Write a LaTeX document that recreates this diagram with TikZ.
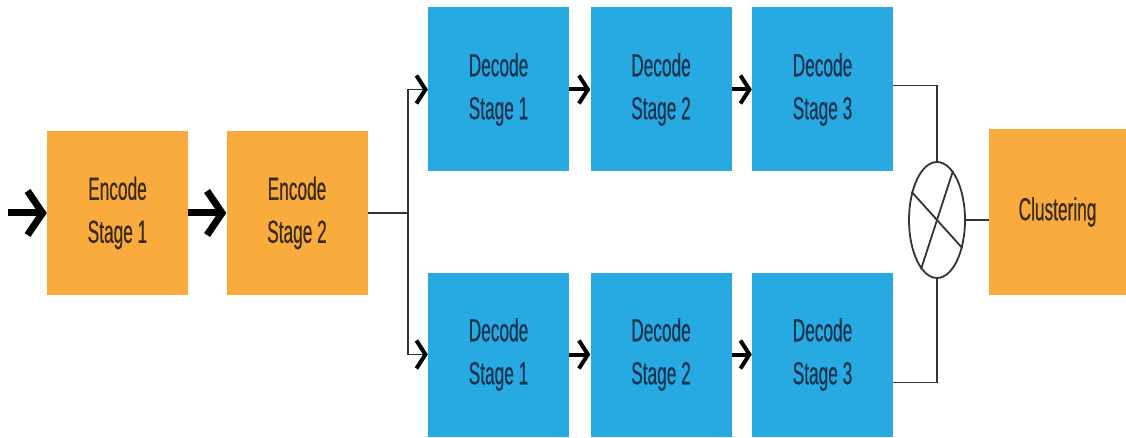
\documentclass[tikz,border=0pt]{standalone}
\usepackage{fontspec}
\usetikzlibrary{arrows.meta,shapes.geometric}
\newfontfamily\boxfont[FakeStretch=0.54,FakeBold=0.4]{Liberation Sans}
\definecolor{encorange}{HTML}{F9AB3D}
\definecolor{decblue}{HTML}{27A9E1}
\definecolor{txtbrown}{HTML}{3A2A12}
\definecolor{txtnavy}{HTML}{16344F}
\definecolor{wire}{HTML}{333333}
\tikzset{
  box/.style={minimum width=141pt, minimum height=164pt, inner sep=0pt, align=center,
    font=\boxfont\fontsize{32}{43}\selectfont},
  encbox/.style={box, fill=encorange, text=txtbrown},
  decbox/.style={box, fill=decblue, text=txtnavy},
  bigarrow/.style={line width=7pt, -{Straight Barb[length=15pt,width=44pt]}},
  smallarrow/.style={line width=4pt, -{Straight Barb[length=9pt,width=28pt]}},
  splitarrow/.style={line width=1.8pt, draw=wire, -{Straight Barb[length=9pt,width=28pt,line width=4pt,color=black]}},
  wireline/.style={line width=1.8pt, draw=wire},
}
\begin{document}
\begin{tikzpicture}[x=1pt,y=-1pt]
\useasboundingbox[fill=white] (0,0) rectangle (1126,438);
\node[encbox] (E1) at (117.5,213) {Encode\\Stage 1};
\node[encbox] (E2) at (297,213) {Encode\\Stage 2};
\node[decbox] (D1t) at (498.5,89.5) {Decode\\Stage 1};
\node[decbox] (D2t) at (661,89.5) {Decode\\Stage 2};
\node[decbox] (D3t) at (822.5,89.5) {Decode\\Stage 3};
\node[decbox] (D1b) at (498.5,354.5) {Decode\\Stage 1};
\node[decbox] (D2b) at (661,354.5) {Decode\\Stage 2};
\node[decbox] (D3b) at (822.5,354.5) {Decode\\Stage 3};
\node[encbox, minimum width=137pt, minimum height=165pt] (CL) at (1057.5,212) {Clustering};
\node[ellipse, draw=wire, line width=1.8pt, minimum width=56pt, minimum height=116pt, inner sep=0pt] (M) at (937,220) {};
\draw[wireline] (M.132) -- (M.312);
\draw[wireline] (M.72) -- (M.252);
\coordinate (IN) at (8,213);
\coordinate (S) at (408,213);
\draw[bigarrow] (IN) -- (E1.west);
\draw[bigarrow] (E1.east) -- (E2.west);
\draw[wireline] (E2.east) -- (S);
\draw[splitarrow] (S) |- (D1t.west);
\draw[splitarrow] (S) |- (D1b.west);
\draw[smallarrow] (D1t.east) -- (D2t.west);
\draw[smallarrow] (D2t.east) -- (D3t.west);
\draw[smallarrow] (D1b.east) -- (D2b.west);
\draw[smallarrow] (D2b.east) -- (D3b.west);
\draw[wireline] ([yshift=4pt]D3t.east) -| (M.north);
\draw[wireline] ([yshift=-28pt]D3b.east) -| (M.south);
\draw[wireline] (M.east) -- (M.east -| CL.west);
\end{tikzpicture}
\end{document}
